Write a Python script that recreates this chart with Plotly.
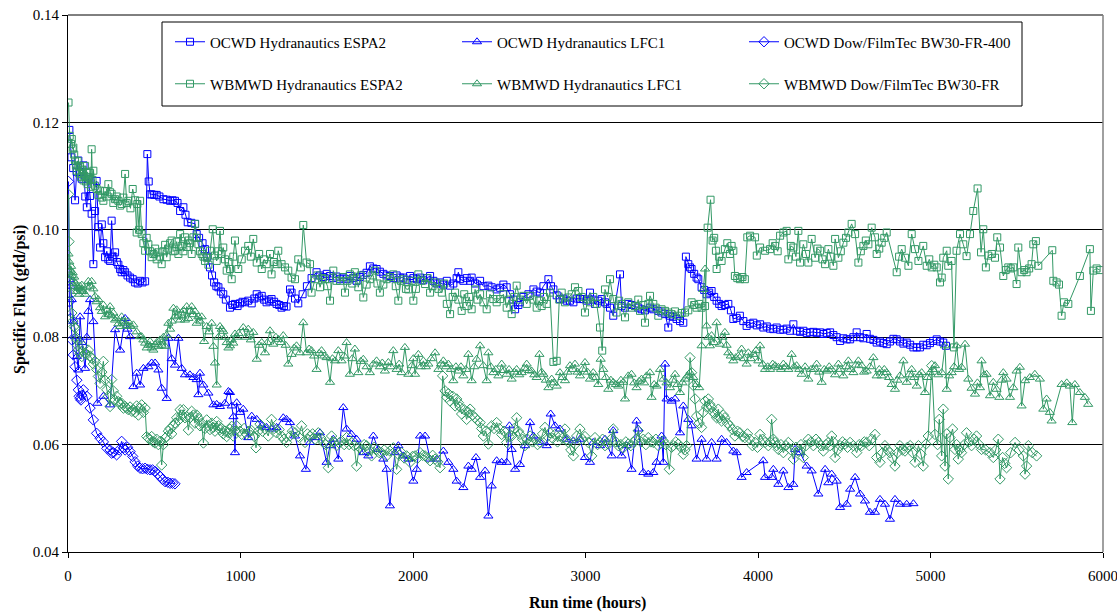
import plotly.graph_objects as go

# ---------------- data: (run time in hours, specific flux in gfd/psi) ----------------
OCWD_ESPA2 = [
    (8,0.1186),(20,0.1135),(30,0.1115),(41,0.1055),(50,0.1108),(60,0.1129),(70,0.1107),(80,0.1095),(90,0.1120),(100,0.1062),
    (109,0.1042),(118,0.1095),(128,0.1063),(137,0.1030),(147,0.0936),(157,0.1035),(166,0.1091),(176,0.1005),(186,0.0967),(196,0.1010),
    (205,0.0975),(215,0.0949),(225,0.0960),(234,0.0945),(244,0.0942),(253,0.1017),(263,0.0950),(273,0.0958),(283,0.0940),(292,0.0935),
    (302,0.0927),(311,0.0921),(321,0.0925),(331,0.0921),(345,0.0915),(360,0.0911),(375,0.0908),(389,0.0902),(404,0.0900),(418,0.0905),
    (432,0.0902),(447,0.0904),(460,0.1141),(468,0.1090),(476,0.1066),(485,0.1066),(500,0.1065),(514,0.1065),(530,0.1062),(553,0.1057),
    (572,0.1056),(592,0.1054),(606,0.1055),(620,0.1054),(635,0.1050),(650,0.1035),(669,0.1042),(681,0.1028),(694,0.1014),(715,0.1013),
    (737,0.1011),(746,0.0992),(760,0.0985),(780,0.0975),(794,0.0964),(808,0.0950),(823,0.0930),(835,0.0915),(847,0.0902),(860,0.0895),
    (872,0.0893),(886,0.0885),(900,0.0880),(915,0.0870),(939,0.0855),(953,0.0860),(968,0.0862),(983,0.0858),(997,0.0863),(1012,0.0866),
    (1026,0.0865),(1045,0.0868),(1065,0.0863),(1080,0.0872),(1094,0.0880),(1108,0.0874),(1123,0.0877),(1137,0.0870),(1151,0.0865),(1166,0.0868),
    (1180,0.0871),(1195,0.0866),(1209,0.0862),(1224,0.0860),(1238,0.0855),(1252,0.0858),(1267,0.0857),(1287,0.0889),(1296,0.0883),(1316,0.0872),
    (1335,0.0863),(1360,0.0880),(1385,0.0895),(1412,0.0910),(1441,0.0921),(1460,0.0915),(1480,0.0912),(1500,0.0918),(1519,0.0914),(1538,0.0910),
    (1557,0.0913),(1577,0.0908),(1596,0.0911),(1615,0.0908),(1634,0.0914),(1654,0.0910),(1673,0.0905),(1692,0.0912),(1712,0.0916),(1731,0.0920),
    (1750,0.0932),(1770,0.0928),(1789,0.0927),(1808,0.0922),(1828,0.0918),(1847,0.0915),(1866,0.0914),(1886,0.0910),(1905,0.0915),(1925,0.0911),
    (1944,0.0911),(1963,0.0907),(1983,0.0914),(2002,0.0910),(2022,0.0908),(2041,0.0911),(2060,0.0906),(2080,0.0910),(2099,0.0914),(2118,0.0905),
    (2138,0.0900),(2157,0.0902),(2176,0.0898),(2196,0.0905),(2215,0.0896),(2234,0.0900),(2253,0.0910),(2263,0.0921),(2273,0.0908),(2292,0.0905),
    (2311,0.0910),(2331,0.0905),(2340,0.0911),(2360,0.0900),(2389,0.0905),(2408,0.0895),(2437,0.0896),(2456,0.0893),(2485,0.0889),(2505,0.0892),
    (2524,0.0898),(2543,0.0893),(2562,0.0880),(2582,0.0870),(2592,0.0852),(2611,0.0860),(2620,0.0865),(2640,0.0875),(2669,0.0880),(2698,0.0889),
    (2717,0.0885),(2736,0.0883),(2756,0.0895),(2785,0.0908),(2800,0.0895),(2814,0.0889),(2833,0.0878),(2852,0.0871),(2872,0.0872),(2891,0.0868),
    (2910,0.0868),(2930,0.0865),(2949,0.0872),(2968,0.0871),(2987,0.0871),(3007,0.0868),(3026,0.0883),(3045,0.0870),(3055,0.0862),(3074,0.0868),
    (3094,0.0871),(3113,0.0865),(3123,0.0862),(3142,0.0855),(3161,0.0840),(3200,0.0917),(3209,0.0858),(3229,0.0855),(3248,0.0862),(3267,0.0860),
    (3287,0.0858),(3306,0.0855),(3325,0.0852),(3345,0.0850),(3374,0.0855),(3393,0.0852),(3422,0.0849),(3441,0.0846),(3461,0.0843),(3480,0.0818),
    (3490,0.0840),(3509,0.0838),(3528,0.0834),(3548,0.0830),(3567,0.0827),(3582,0.0950),(3596,0.0936),(3606,0.0930),(3615,0.0927),(3630,0.0918),
    (3644,0.0911),(3654,0.0908),(3673,0.0893),(3688,0.0888),(3702,0.0880),(3717,0.0883),(3731,0.0886),(3746,0.0875),(3760,0.0868),(3775,0.0862),
    (3789,0.0858),(3808,0.0860),(3828,0.0862),(3843,0.0850),(3857,0.0834),(3876,0.0836),(3895,0.0840),(3915,0.0830),(3934,0.0821),(3954,0.0825),
    (3973,0.0827),(3993,0.0822),(4012,0.0824),(4031,0.0818),(4051,0.0820),(4070,0.0816),(4089,0.0815),(4108,0.0818),(4128,0.0814),(4147,0.0814),
    (4166,0.0816),(4186,0.0812),(4205,0.0824),(4224,0.0812),(4244,0.0810),(4263,0.0812),(4282,0.0808),(4302,0.0809),(4321,0.0810),(4340,0.0808),
    (4360,0.0809),(4379,0.0806),(4398,0.0808),(4418,0.0809),(4437,0.0804),(4456,0.0800),(4476,0.0793),(4495,0.0798),(4514,0.0796),(4534,0.0796),
    (4553,0.0800),(4572,0.0809),(4592,0.0800),(4611,0.0798),(4630,0.0806),(4649,0.0797),(4669,0.0795),(4688,0.0790),(4707,0.0792),(4727,0.0789),
    (4746,0.0787),(4765,0.0792),(4785,0.0797),(4804,0.0796),(4823,0.0792),(4843,0.0788),(4862,0.0790),(4882,0.0786),(4901,0.0781),(4920,0.0781),
    (4939,0.0781),(4958,0.0786),(4978,0.0785),(4997,0.0789),(5016,0.0793),(5036,0.0796),(5055,0.0792),(5074,0.0790),(5090,0.0784),
]

OCWD_LFC1 = [
    (8,0.0907),(15,0.0895),(22,0.0870),(31,0.0829),(41,0.0801),(51,0.0764),(60,0.0739),(70,0.0838),(80,0.0790),(99,0.0742),
    (109,0.0800),(118,0.0848),(128,0.0870),(147,0.0829),(170,0.0677),(205,0.0690),(244,0.0674),(273,0.0814),(302,0.0776),(331,0.0835),
    (345,0.0815),(360,0.0801),(379,0.0708),(398,0.0733),(418,0.0711),(437,0.0742),(466,0.0745),(485,0.0752),(505,0.0752),(524,0.0739),
    (543,0.0705),(572,0.0686),(582,0.0798),(601,0.0760),(620,0.0748),(640,0.0798),(659,0.0742),(678,0.0730),(707,0.0730),(727,0.0725),
    (746,0.0721),(756,0.0693),(765,0.0733),(785,0.0711),(814,0.0696),(843,0.0674),(862,0.0675),(881,0.0671),(910,0.0677),(930,0.0699),
    (939,0.0697),(949,0.0672),(959,0.0652),(968,0.0585),(978,0.0678),(997,0.0660),(1016,0.0666),(1045,0.0613),(1065,0.0653),(1094,0.0647),
    (1123,0.0635),(1151,0.0632),(1180,0.0629),(1209,0.0632),(1248,0.0650),(1267,0.0647),(1287,0.0641),(1316,0.0616),(1345,0.0579),(1379,0.0554),
    (1403,0.0604),(1432,0.0613),(1461,0.0622),(1499,0.0567),(1519,0.0598),(1538,0.0610),(1567,0.0573),(1596,0.0669),(1615,0.0629),(1644,0.0619),
    (1673,0.0610),(1712,0.0585),(1741,0.0579),(1770,0.0616),(1799,0.0591),(1828,0.0573),(1847,0.0554),(1866,0.0486),(1895,0.0585),(1915,0.0598),
    (1944,0.0579),(1973,0.0573),(2002,0.0532),(2022,0.0554),(2041,0.0616),(2070,0.0616),(2099,0.0573),(2138,0.0573),(2176,0.0588),(2205,0.0567),
    (2234,0.0554),(2253,0.0532),(2292,0.0520),(2321,0.0560),(2340,0.0554),(2365,0.0576),(2389,0.0539),(2418,0.0551),(2437,0.0467),(2456,0.0523),
    (2485,0.0570),(2514,0.0567),(2543,0.0567),(2559,0.0635),(2572,0.0591),(2592,0.0554),(2620,0.0563),(2649,0.0598),(2679,0.0641),(2698,0.0616),
    (2736,0.0604),(2775,0.0598),(2798,0.0657),(2823,0.0635),(2852,0.0629),(2891,0.0610),(2930,0.0607),(2968,0.0610),(2997,0.0576),(3026,0.0567),
    (3045,0.0604),(3084,0.0598),(3113,0.0610),(3152,0.0579),(3161,0.0626),(3209,0.0579),(3238,0.0598),(3267,0.0554),(3296,0.0644),(3306,0.0629),
    (3335,0.0548),(3364,0.0545),(3393,0.0548),(3412,0.0567),(3441,0.0616),(3451,0.0567),(3461,0.0750),(3470,0.0685),(3499,0.0681),(3519,0.0685),
    (3548,0.0622),(3567,0.0672),(3596,0.0647),(3615,0.0635),(3644,0.0573),(3673,0.0610),(3702,0.0573),(3731,0.0604),(3760,0.0573),(3789,0.0610),
    (3818,0.0604),(3857,0.0588),(3876,0.0585),(3905,0.0539),(3934,0.0548),(4031,0.0570),(4041,0.0539),(4079,0.0539),(4089,0.0554),(4118,0.0526),
    (4147,0.0551),(4176,0.0520),(4205,0.0526),(4215,0.0591),(4244,0.0585),(4282,0.0560),(4311,0.0551),(4350,0.0508),(4389,0.0554),(4408,0.0529),
    (4427,0.0545),(4456,0.0532),(4476,0.0483),(4514,0.0489),(4534,0.0517),(4563,0.0539),(4592,0.0508),(4620,0.0495),(4649,0.0474),(4678,0.0474),
    (4707,0.0498),(4736,0.0489),(4765,0.0461),(4794,0.0498),(4823,0.0489),(4862,0.0489),(4901,0.0490),
]

OCWD_BW30 = [
    (3,0.1090),(8,0.0866),(15,0.0835),(22,0.0795),(31,0.0767),(41,0.0745),(51,0.0720),(60,0.0702),(65,0.0690),(70,0.0686),
    (75,0.0683),(80,0.0692),(89,0.0702),(109,0.0690),(128,0.0668),(147,0.0646),(166,0.0621),(186,0.0612),(205,0.0605),(225,0.0593),
    (244,0.0590),(253,0.0584),(263,0.0585),(282,0.0581),(296,0.0590),(311,0.0606),(321,0.0594),(331,0.0590),(345,0.0595),(360,0.0587),
    (375,0.0578),(389,0.0568),(404,0.0560),(418,0.0556),(432,0.0555),(447,0.0556),(461,0.0554),(476,0.0553),(490,0.0553),(505,0.0550),
    (520,0.0545),(534,0.0541),(548,0.0535),(563,0.0531),(578,0.0530),(592,0.0528),(606,0.0528),(620,0.0527),
]

WBMWD_ESPA2 = [
    (3,0.1237),(10,0.1175),(18,0.1160),(22,0.1169),(27,0.1150),(31,0.1153),(36,0.1140),(41,0.1129),(46,0.1120),(51,0.1110),
    (56,0.1128),(60,0.1119),(65,0.1105),(70,0.1118),(75,0.1098),(80,0.1104),(85,0.1112),(90,0.1092),(95,0.1100),(99,0.1119),
    (104,0.1090),(109,0.1108),(114,0.1085),(118,0.1098),(123,0.1095),(128,0.1106),(133,0.1080),(137,0.1150),(142,0.1093),(147,0.1110),
    (157,0.1082),(166,0.1076),(176,0.1065),(186,0.1073),(196,0.1060),(205,0.1054),(215,0.1072),(225,0.1062),(234,0.1085),(244,0.1070),
    (253,0.1067),(263,0.1050),(273,0.1057),(282,0.1062),(292,0.1054),(302,0.1045),(311,0.1048),(321,0.1060),(331,0.1104),(340,0.1050),
    (350,0.1054),(362,0.1040),(375,0.1076),(389,0.1055),(398,0.0995),(402,0.1048),(412,0.1000),(418,0.1054),(427,0.0992),(437,0.0975),
    (447,0.0961),(456,0.0985),(466,0.0973),(476,0.0960),(485,0.0949),(495,0.0955),(505,0.0965),(514,0.0945),(524,0.0958),(534,0.0950),
    (543,0.0936),(553,0.0960),(563,0.0972),(572,0.0949),(582,0.0965),(592,0.0975),(601,0.0980),(611,0.0960),(620,0.0961),(630,0.0978),
    (640,0.0955),(650,0.0992),(659,0.0970),(669,0.0960),(678,0.0986),(688,0.0968),(698,0.0980),(707,0.0975),(717,0.0955),(727,0.0986),
    (736,0.1011),(746,0.0985),(756,0.0973),(765,0.0960),(775,0.0955),(785,0.0950),(794,0.0942),(804,0.0948),(814,0.0935),(823,0.0961),
    (839,0.1001),(852,0.0952),(862,0.0942),(872,0.0960),(881,0.0998),(891,0.0955),(900,0.0967),(910,0.0945),(920,0.0924),(930,0.0940),
    (939,0.0927),(949,0.0908),(958,0.0950),(968,0.0980),(987,0.0927),(1007,0.0945),(1026,0.0961),(1045,0.0970),(1060,0.0950),(1074,0.0983),
    (1094,0.0939),(1108,0.0955),(1123,0.0927),(1137,0.0945),(1151,0.0936),(1171,0.0955),(1180,0.0917),(1195,0.0940),(1209,0.0936),(1219,0.0961),
    (1238,0.0936),(1258,0.0930),(1277,0.0924),(1296,0.0911),(1316,0.0908),(1335,0.0945),(1350,0.0930),(1364,0.1009),(1383,0.0939),(1403,0.0936),
    (1412,0.0883),(1432,0.0908),(1446,0.0915),(1461,0.0893),(1475,0.0910),(1490,0.0908),(1504,0.0895),(1519,0.0868),(1538,0.0924),(1557,0.0905),
    (1577,0.0905),(1592,0.0912),(1606,0.0883),(1620,0.0905),(1634,0.0917),(1648,0.0900),(1663,0.0921),(1683,0.0893),(1697,0.0915),(1712,0.0874),
    (1731,0.0898),(1750,0.0908),(1765,0.0915),(1779,0.0924),(1794,0.0900),(1808,0.0883),(1828,0.0898),(1847,0.0908),(1866,0.0912),(1886,0.0917),
    (1900,0.0895),(1915,0.0868),(1930,0.0905),(1944,0.0908),(1959,0.0890),(1973,0.0889),(1993,0.0905),(2002,0.0868),(2017,0.0890),(2031,0.0917),
    (2050,0.0905),(2070,0.0899),(2085,0.0910),(2099,0.0883),(2113,0.0895),(2128,0.0902),(2147,0.0890),(2167,0.0883),(2181,0.0900),(2196,0.0862),
    (2215,0.0843),(2230,0.0875),(2244,0.0883),(2263,0.0870),(2282,0.0849),(2297,0.0880),(2311,0.0858),(2326,0.0875),(2340,0.0852),(2360,0.0889),
    (2374,0.0870),(2389,0.0880),(2408,0.0865),(2427,0.0852),(2446,0.0880),(2466,0.0871),(2485,0.0865),(2505,0.0871),(2524,0.0880),(2543,0.0855),
    (2557,0.0870),(2572,0.0843),(2587,0.0875),(2601,0.0896),(2620,0.0870),(2640,0.0877),(2659,0.0862),(2679,0.0877),(2698,0.0870),(2717,0.0855),
    (2731,0.0868),(2746,0.0858),(2760,0.0875),(2775,0.0862),(2794,0.0883),(2814,0.0754),(2833,0.0756),(2848,0.0870),(2862,0.0883),(2881,0.0865),
    (2901,0.0874),(2920,0.0880),(2939,0.0893),(2959,0.0886),(2978,0.0875),(2997,0.0846),(3016,0.0870),(3026,0.0865),(3045,0.0875),(3065,0.0862),
    (3084,0.0818),(3097,0.0775),(3113,0.0889),(3128,0.0875),(3142,0.0908),(3161,0.0871),(3180,0.0846),(3195,0.0868),(3209,0.0862),(3229,0.0837),
    (3248,0.0865),(3267,0.0855),(3287,0.0858),(3306,0.0870),(3316,0.0849),(3335,0.0860),(3345,0.0827),(3364,0.0862),(3374,0.0877),(3393,0.0862),
    (3407,0.0855),(3422,0.0840),(3441,0.0852),(3461,0.0849),(3480,0.0846),(3499,0.0843),(3519,0.0848),(3538,0.0840),(3557,0.0845),(3577,0.0846),
    (3596,0.0850),(3615,0.0865),(3630,0.0860),(3644,0.0855),(3659,0.0862),(3673,0.0855),(3693,0.0858),(3708,0.1004),(3725,0.1056),(3737,0.0980),
    (3746,0.0985),(3756,0.0961),(3760,0.0927),(3775,0.0950),(3789,0.0942),(3808,0.0964),(3822,0.0975),(3837,0.0955),(3847,0.0970),(3857,0.0961),
    (3866,0.0914),(3880,0.0910),(3895,0.0908),(3910,0.0912),(3924,0.0908),(3938,0.0986),(3954,0.0989),(3983,0.0986),(3993,0.0952),(4012,0.0967),
    (4041,0.0961),(4070,0.0964),(4085,0.0975),(4099,0.0970),(4114,0.0960),(4128,0.0989),(4147,0.0995),(4166,0.0998),(4176,0.0945),(4190,0.0970),
    (4205,0.0967),(4220,0.0950),(4234,0.0998),(4244,0.0939),(4263,0.0973),(4278,0.0955),(4292,0.0939),(4311,0.0983),(4331,0.0948),(4345,0.0965),
    (4360,0.0961),(4374,0.0945),(4389,0.0936),(4408,0.0964),(4422,0.0950),(4437,0.0933),(4447,0.0983),(4466,0.0948),(4480,0.0960),(4495,0.0976),
    (4510,0.0985),(4524,0.0995),(4543,0.1011),(4563,0.0992),(4582,0.0939),(4596,0.0960),(4611,0.0970),(4625,0.0980),(4640,0.0973),(4659,0.1004),
    (4678,0.0986),(4688,0.0955),(4703,0.0965),(4717,0.0976),(4732,0.0985),(4746,0.0995),(4804,0.0921),(4818,0.0950),(4833,0.0964),(4852,0.0948),
    (4872,0.0933),(4891,0.0992),(4910,0.0964),(4930,0.0942),(4958,0.0970),(4978,0.0933),(4993,0.0945),(5007,0.0930),(5022,0.0935),(5036,0.0930),
    (5055,0.0902),(5065,0.0911),(5074,0.0948),(5094,0.0961),(5103,0.0933),(5122,0.0942),(5136,0.0781),(5151,0.0961),(5171,0.0992),(5190,0.0973),
    (5209,0.0951),(5229,0.0992),(5248,0.1035),(5273,0.1077),(5293,0.0958),(5306,0.1001),(5321,0.0930),(5335,0.0952),(5355,0.0955),(5374,0.0948),
    (5387,0.0986),(5403,0.0967),(5422,0.0914),(5436,0.0925),(5451,0.0930),(5465,0.0928),(5480,0.0930),(5499,0.0899),(5509,0.0967),(5528,0.0921),
    (5543,0.0925),(5557,0.0921),(5572,0.0928),(5586,0.0936),(5596,0.0973),(5611,0.0979),(5625,0.0933),(5706,0.0962),(5712,0.0905),(5731,0.0902),
    (5745,0.0898),(5760,0.0840),(5774,0.0865),(5799,0.0862),(5866,0.0914),(5924,0.0964),(5930,0.0849),(5944,0.0924),(5963,0.0928),(5982,0.0925),
]

WBMWD_LFC1 = [
    (3,0.0955),(8,0.0940),(13,0.0925),(18,0.0932),(22,0.0915),(27,0.0920),(31,0.0905),(36,0.0912),(41,0.0894),(46,0.0900),
    (51,0.0885),(56,0.0893),(60,0.0891),(65,0.0880),(70,0.0895),(75,0.0888),(80,0.0897),(89,0.0885),(99,0.0880),(109,0.0893),
    (118,0.0904),(128,0.0895),(137,0.0904),(147,0.0890),(157,0.0876),(166,0.0866),(176,0.0870),(186,0.0855),(196,0.0848),(205,0.0860),
    (215,0.0838),(225,0.0850),(234,0.0842),(244,0.0857),(253,0.0840),(263,0.0845),(273,0.0832),(282,0.0835),(292,0.0825),(302,0.0820),
    (311,0.0838),(321,0.0830),(331,0.0826),(340,0.0822),(350,0.0829),(360,0.0820),(379,0.0823),(398,0.0810),(418,0.0801),(427,0.0801),
    (437,0.0795),(447,0.0789),(456,0.0780),(466,0.0785),(476,0.0792),(485,0.0780),(495,0.0776),(505,0.0786),(514,0.0790),(524,0.0783),
    (534,0.0795),(543,0.0785),(553,0.0800),(563,0.0783),(572,0.0804),(582,0.0826),(592,0.0815),(601,0.0830),(611,0.0854),(620,0.0838),
    (630,0.0851),(640,0.0840),(650,0.0832),(659,0.0845),(669,0.0850),(678,0.0832),(688,0.0857),(698,0.0835),(707,0.0848),(717,0.0857),
    (727,0.0842),(736,0.0848),(746,0.0826),(756,0.0838),(765,0.0830),(775,0.0838),(789,0.0792),(804,0.0820),(818,0.0810),(833,0.0826),
    (843,0.0783),(852,0.0752),(862,0.0711),(872,0.0800),(881,0.0820),(891,0.0815),(900,0.0811),(910,0.0800),(920,0.0790),(930,0.0780),
    (939,0.0784),(949,0.0795),(958,0.0789),(968,0.0806),(978,0.0800),(988,0.0807),(1016,0.0818),(1031,0.0800),(1045,0.0815),(1060,0.0795),
    (1074,0.0809),(1094,0.0759),(1108,0.0785),(1123,0.0790),(1142,0.0771),(1156,0.0790),(1171,0.0812),(1190,0.0787),(1205,0.0800),(1219,0.0796),
    (1234,0.0790),(1248,0.0803),(1262,0.0785),(1277,0.0750),(1296,0.0768),(1311,0.0780),(1325,0.0784),(1345,0.0771),(1364,0.0827),(1383,0.0771),
    (1398,0.0778),(1412,0.0775),(1427,0.0765),(1441,0.0740),(1456,0.0770),(1470,0.0775),(1485,0.0765),(1499,0.0762),(1519,0.0716),(1533,0.0760),
    (1548,0.0756),(1567,0.0775),(1586,0.0756),(1601,0.0765),(1615,0.0790),(1634,0.0731),(1648,0.0760),(1663,0.0778),(1683,0.0734),(1697,0.0755),
    (1712,0.0759),(1731,0.0745),(1750,0.0734),(1770,0.0750),(1789,0.0756),(1808,0.0745),(1822,0.0752),(1837,0.0737),(1857,0.0753),(1871,0.0745),
    (1886,0.0775),(1905,0.0740),(1920,0.0750),(1934,0.0734),(1953,0.0781),(1973,0.0731),(1993,0.0747),(2002,0.0760),(2012,0.0731),(2031,0.0768),
    (2046,0.0745),(2060,0.0756),(2075,0.0745),(2089,0.0750),(2104,0.0760),(2128,0.0771),(2147,0.0740),(2162,0.0750),(2176,0.0756),(2191,0.0745),
    (2205,0.0750),(2220,0.0740),(2234,0.0719),(2249,0.0745),(2263,0.0737),(2278,0.0745),(2292,0.0728),(2307,0.0740),(2321,0.0768),(2340,0.0719),
    (2355,0.0745),(2369,0.0759),(2389,0.0784),(2408,0.0747),(2427,0.0719),(2437,0.0771),(2451,0.0745),(2466,0.0734),(2480,0.0740),(2495,0.0728),
    (2514,0.0750),(2528,0.0738),(2543,0.0731),(2557,0.0740),(2572,0.0722),(2587,0.0735),(2601,0.0740),(2616,0.0730),(2630,0.0734),(2645,0.0742),
    (2659,0.0750),(2674,0.0738),(2688,0.0737),(2703,0.0730),(2717,0.0725),(2733,0.0768),(2746,0.0735),(2756,0.0731),(2770,0.0720),(2785,0.0706),
    (2804,0.0722),(2818,0.0715),(2833,0.0709),(2852,0.0734),(2867,0.0725),(2881,0.0719),(2896,0.0735),(2910,0.0747),(2925,0.0740),(2939,0.0750),
    (2954,0.0735),(2968,0.0728),(2983,0.0740),(2997,0.0753),(3012,0.0735),(3026,0.0722),(3045,0.0734),(3060,0.0725),(3074,0.0712),(3088,0.0759),
    (3103,0.0740),(3118,0.0725),(3132,0.0703),(3147,0.0720),(3161,0.0716),(3176,0.0712),(3190,0.0709),(3205,0.0720),(3219,0.0716),(3229,0.0685),
    (3248,0.0728),(3267,0.0731),(3282,0.0715),(3296,0.0706),(3311,0.0718),(3325,0.0722),(3340,0.0715),(3354,0.0728),(3374,0.0734),(3383,0.0688),
    (3398,0.0712),(3412,0.0709),(3432,0.0740),(3451,0.0722),(3470,0.0715),(3490,0.0706),(3504,0.0720),(3519,0.0731),(3533,0.0712),(3548,0.0697),
    (3562,0.0715),(3577,0.0722),(3591,0.0728),(3606,0.0734),(3625,0.0725),(3644,0.0712),(3659,0.0706),(3673,0.0784),(3683,0.0889),(3693,0.0927),
    (3702,0.0821),(3712,0.0800),(3721,0.0784),(3731,0.0803),(3746,0.0790),(3760,0.0827),(3779,0.0787),(3794,0.0800),(3808,0.0809),(3818,0.0785),
    (3828,0.0771),(3842,0.0765),(3857,0.0756),(3871,0.0762),(3886,0.0765),(3905,0.0778),(3920,0.0760),(3934,0.0750),(3944,0.0771),(3958,0.0760),
    (3973,0.0768),(3988,0.0775),(4002,0.0756),(4012,0.0784),(4027,0.0750),(4041,0.0740),(4056,0.0745),(4070,0.0740),(4085,0.0750),(4099,0.0747),
    (4118,0.0744),(4133,0.0740),(4147,0.0750),(4162,0.0745),(4176,0.0740),(4195,0.0768),(4210,0.0745),(4224,0.0747),(4239,0.0740),(4253,0.0731),
    (4273,0.0745),(4292,0.0722),(4307,0.0740),(4321,0.0740),(4340,0.0750),(4355,0.0735),(4369,0.0716),(4384,0.0740),(4398,0.0737),(4413,0.0745),
    (4427,0.0740),(4447,0.0730),(4466,0.0750),(4480,0.0740),(4495,0.0728),(4510,0.0745),(4524,0.0756),(4538,0.0740),(4553,0.0734),(4567,0.0748),
    (4582,0.0756),(4601,0.0747),(4615,0.0735),(4630,0.0737),(4649,0.0745),(4669,0.0762),(4688,0.0728),(4703,0.0740),(4717,0.0728),(4732,0.0740),
    (4746,0.0734),(4760,0.0725),(4775,0.0712),(4794,0.0703),(4808,0.0720),(4823,0.0728),(4843,0.0756),(4862,0.0716),(4876,0.0730),(4891,0.0740),
    (4905,0.0725),(4920,0.0709),(4935,0.0730),(4949,0.0734),(4968,0.0697),(4983,0.0725),(4997,0.0734),(5012,0.0740),(5026,0.0747),(5045,0.0730),
    (5065,0.0734),(5084,0.0784),(5094,0.0703),(5108,0.0728),(5123,0.0734),(5137,0.0745),(5151,0.0784),(5166,0.0740),(5180,0.0744),(5200,0.0787),
    (5219,0.0722),(5238,0.0705),(5258,0.0694),(5272,0.0715),(5287,0.0706),(5296,0.0756),(5311,0.0730),(5325,0.0731),(5345,0.0691),(5364,0.0716),
    (5383,0.0703),(5399,0.0688),(5412,0.0720),(5422,0.0734),(5441,0.0722),(5461,0.0688),(5480,0.0706),(5499,0.0737),(5518,0.0744),(5528,0.0672),
    (5548,0.0719),(5576,0.0725),(5605,0.0731),(5634,0.0722),(5654,0.0666),(5673,0.0685),(5692,0.0660),(5702,0.0644),(5760,0.0712),(5790,0.0715),
    (5808,0.0709),(5822,0.0641),(5837,0.0712),(5866,0.0697),(5895,0.0688),(5914,0.0675),
]

WBMWD_BW30 = [
    (3,0.1066),(6,0.0978),(12,0.0920),(16,0.0880),(22,0.0845),(28,0.0830),(35,0.0820),(41,0.0817),(46,0.0800),(51,0.0795),
    (56,0.0785),(60,0.0776),(70,0.0770),(80,0.0764),(89,0.0783),(99,0.0770),(109,0.0768),(118,0.0776),(128,0.0765),(137,0.0761),
    (147,0.0750),(157,0.0755),(166,0.0740),(176,0.0727),(186,0.0714),(196,0.0735),(205,0.0755),(215,0.0720),(225,0.0702),(234,0.0690),
    (244,0.0671),(253,0.0721),(263,0.0700),(273,0.0683),(282,0.0690),(292,0.0680),(302,0.0675),(311,0.0677),(321,0.0668),(331,0.0671),
    (340,0.0668),(350,0.0665),(360,0.0670),(370,0.0662),(379,0.0665),(389,0.0660),(398,0.0672),(408,0.0655),(418,0.0668),(427,0.0674),
    (437,0.0660),(447,0.0668),(456,0.0615),(466,0.0612),(476,0.0609),(485,0.0615),(495,0.0605),(505,0.0603),(514,0.0610),(524,0.0600),
    (534,0.0606),(543,0.0562),(553,0.0600),(563,0.0612),(572,0.0615),(582,0.0625),(592,0.0630),(601,0.0620),(611,0.0635),(620,0.0640),
    (630,0.0650),(640,0.0645),(650,0.0665),(659,0.0655),(669,0.0665),(678,0.0650),(688,0.0652),(698,0.0627),(707,0.0650),(717,0.0662),
    (727,0.0655),(736,0.0640),(746,0.0655),(756,0.0649),(765,0.0635),(775,0.0640),(785,0.0603),(794,0.0630),(804,0.0646),(814,0.0635),
    (823,0.0628),(833,0.0640),(843,0.0632),(852,0.0625),(862,0.0643),(872,0.0635),(881,0.0628),(891,0.0630),(900,0.0620),(910,0.0625),
    (920,0.0615),(930,0.0622),(939,0.0629),(949,0.0634),(958,0.0616),(968,0.0625),(978,0.0635),(997,0.0625),(1007,0.0619),(1021,0.0630),
    (1036,0.0619),(1050,0.0625),(1065,0.0626),(1080,0.0615),(1090,0.0594),(1103,0.0625),(1113,0.0638),(1127,0.0625),(1142,0.0629),(1161,0.0616),
    (1180,0.0647),(1195,0.0630),(1209,0.0622),(1224,0.0628),(1238,0.0616),(1252,0.0610),(1267,0.0604),(1287,0.0616),(1301,0.0625),(1316,0.0622),
    (1335,0.0615),(1354,0.0635),(1374,0.0604),(1388,0.0620),(1403,0.0616),(1418,0.0620),(1432,0.0610),(1451,0.0622),(1466,0.0612),(1480,0.0604),
    (1495,0.0600),(1509,0.0557),(1528,0.0616),(1543,0.0605),(1557,0.0598),(1572,0.0603),(1586,0.0607),(1601,0.0600),(1615,0.0613),(1630,0.0600),
    (1644,0.0604),(1659,0.0598),(1673,0.0560),(1688,0.0595),(1702,0.0591),(1717,0.0600),(1731,0.0598),(1746,0.0590),(1760,0.0579),(1775,0.0595),
    (1789,0.0591),(1804,0.0585),(1818,0.0585),(1833,0.0590),(1847,0.0579),(1866,0.0588),(1886,0.0594),(1905,0.0554),(1920,0.0580),(1934,0.0585),
    (1949,0.0575),(1963,0.0579),(1983,0.0567),(1998,0.0578),(2012,0.0579),(2027,0.0575),(2041,0.0585),(2056,0.0580),(2070,0.0579),(2085,0.0575),
    (2099,0.0570),(2114,0.0580),(2128,0.0573),(2143,0.0568),(2157,0.0557),(2172,0.0728),(2186,0.0700),(2196,0.0688),(2205,0.0695),(2215,0.0681),
    (2230,0.0690),(2244,0.0672),(2253,0.0685),(2263,0.0678),(2273,0.0670),(2282,0.0657),(2297,0.0665),(2311,0.0647),(2321,0.0660),(2331,0.0666),
    (2345,0.0655),(2360,0.0650),(2374,0.0645),(2389,0.0641),(2398,0.0630),(2408,0.0616),(2422,0.0625),(2437,0.0601),(2456,0.0635),(2470,0.0630),
    (2485,0.0641),(2500,0.0630),(2514,0.0619),(2528,0.0625),(2543,0.0604),(2557,0.0615),(2572,0.0616),(2587,0.0630),(2601,0.0650),(2611,0.0625),
    (2620,0.0619),(2635,0.0610),(2649,0.0598),(2664,0.0610),(2679,0.0616),(2693,0.0605),(2707,0.0610),(2722,0.0600),(2736,0.0604),(2751,0.0620),
    (2765,0.0632),(2780,0.0615),(2794,0.0622),(2809,0.0612),(2823,0.0619),(2838,0.0605),(2852,0.0616),(2867,0.0612),(2881,0.0629),(2891,0.0610),
    (2901,0.0604),(2915,0.0590),(2930,0.0579),(2939,0.0600),(2949,0.0616),(2968,0.0629),(2983,0.0610),(2997,0.0615),(3016,0.0604),(3036,0.0579),
    (3055,0.0613),(3070,0.0600),(3084,0.0604),(3099,0.0610),(3113,0.0598),(3132,0.0601),(3147,0.0610),(3161,0.0629),(3176,0.0605),(3190,0.0598),
    (3205,0.0600),(3219,0.0594),(3234,0.0605),(3248,0.0601),(3263,0.0598),(3277,0.0604),(3292,0.0610),(3306,0.0626),(3321,0.0605),(3335,0.0610),
    (3350,0.0600),(3364,0.0613),(3379,0.0605),(3393,0.0604),(3408,0.0610),(3422,0.0598),(3437,0.0603),(3451,0.0607),(3466,0.0600),(3486,0.0554),
    (3499,0.0595),(3509,0.0598),(3523,0.0605),(3538,0.0601),(3552,0.0595),(3567,0.0582),(3577,0.0590),(3586,0.0598),(3606,0.0762),(3615,0.0734),
    (3625,0.0710),(3635,0.0685),(3644,0.0653),(3659,0.0640),(3673,0.0632),(3683,0.0660),(3693,0.0681),(3702,0.0670),(3712,0.0685),(3721,0.0675),
    (3731,0.0669),(3741,0.0660),(3750,0.0657),(3760,0.0650),(3770,0.0666),(3779,0.0650),(3789,0.0644),(3799,0.0655),(3808,0.0650),(3823,0.0640),
    (3837,0.0635),(3852,0.0628),(3866,0.0616),(3881,0.0625),(3895,0.0622),(3910,0.0615),(3924,0.0613),(3939,0.0620),(3953,0.0610),(3968,0.0598),
    (3983,0.0604),(3997,0.0595),(4012,0.0619),(4027,0.0610),(4041,0.0604),(4060,0.0598),(4070,0.0605),(4079,0.0647),(4089,0.0610),(4099,0.0604),
    (4108,0.0598),(4118,0.0591),(4133,0.0600),(4147,0.0585),(4162,0.0598),(4176,0.0604),(4191,0.0590),(4205,0.0573),(4220,0.0595),(4234,0.0588),
    (4249,0.0600),(4263,0.0576),(4278,0.0598),(4292,0.0610),(4307,0.0605),(4321,0.0598),(4336,0.0610),(4350,0.0604),(4365,0.0598),(4379,0.0588),
    (4394,0.0600),(4408,0.0604),(4418,0.0598),(4427,0.0616),(4437,0.0605),(4447,0.0576),(4461,0.0590),(4476,0.0598),(4490,0.0605),(4505,0.0601),
    (4519,0.0595),(4534,0.0604),(4553,0.0598),(4572,0.0585),(4587,0.0600),(4601,0.0598),(4616,0.0605),(4630,0.0604),(4645,0.0598),(4659,0.0610),
    (4678,0.0619),(4688,0.0576),(4707,0.0567),(4722,0.0585),(4736,0.0598),(4751,0.0590),(4765,0.0585),(4780,0.0575),(4794,0.0560),(4809,0.0585),
    (4823,0.0598),(4838,0.0590),(4852,0.0588),(4867,0.0595),(4882,0.0598),(4896,0.0585),(4910,0.0567),(4930,0.0598),(4945,0.0582),(4958,0.0560),
    (4974,0.0601),(4987,0.0616),(5007,0.0747),(5026,0.0619),(5041,0.0600),(5051,0.0647),(5065,0.0579),(5074,0.0666),(5084,0.0560),(5094,0.0620),
    (5103,0.0536),(5113,0.0613),(5128,0.0629),(5142,0.0591),(5151,0.0600),(5161,0.0573),(5171,0.0590),(5180,0.0585),(5195,0.0600),(5209,0.0622),
    (5224,0.0605),(5238,0.0598),(5253,0.0610),(5267,0.0616),(5282,0.0600),(5296,0.0591),(5320,0.0590),(5345,0.0585),(5364,0.0576),(5378,0.0590),
    (5393,0.0610),(5403,0.0536),(5418,0.0576),(5430,0.0565),(5441,0.0557),(5465,0.0585),(5490,0.0604),(5514,0.0590),(5538,0.0579),(5548,0.0545),
    (5557,0.0560),(5567,0.0598),(5590,0.0585),(5615,0.0579),
]

SERIES_NAMES = [
    "OCWD Hydranautics ESPA2", "OCWD Hydranautics LFC1", "OCWD Dow/FilmTec BW30-FR-400",
    "WBMWD Hydranautics ESPA2", "WBMWD Hydranautics LFC1", "WBMWD Dow/FilmTec BW30-FR",
]
X_TICKS = [0, 1000, 2000, 3000, 4000, 5000, 6000]
Y_TICKS = [0.04, 0.06, 0.08, 0.10, 0.12, 0.14]
X_TITLE = "Run time (hours)"
Y_TITLE = "Specific Flux (gfd/psi)"

# ---------------- style ----------------
BLUE = "#0000FF"
GREEN = "#339966"
FONT = "Liberation Serif, 'Times New Roman', Times, serif"

styles = [
    (OCWD_ESPA2, BLUE, "square-open", 7, "legend"),
    (OCWD_LFC1, BLUE, "triangle-up-open", 8, "legend"),
    (OCWD_BW30, BLUE, "diamond-open", 8, "legend"),
    (WBMWD_ESPA2, GREEN, "square-open", 7, "legend2"),
    (WBMWD_LFC1, GREEN, "triangle-up-open", 8, "legend2"),
    (WBMWD_BW30, GREEN, "diamond-open", 8, "legend2"),
]

fig = go.Figure()
for name, (data, color, sym, size, lg) in zip(SERIES_NAMES, styles):
    fig.add_trace(go.Scatter(
        x=[p[0] for p in data], y=[p[1] for p in data],
        mode="lines+markers", name=name, legend=lg,
        line=dict(color=color, width=1),
        marker=dict(symbol=sym, size=size, color=color, line=dict(color=color, width=1)),
    ))

W, H = 1117, 612
L, R, T, B = 68, 14, 15, 60
pw, ph = W - L - R, H - T - B

def px_x(px):
    return (px - L) / pw

def px_y(py):
    return (H - B - py) / ph

legend_common = dict(
    orientation="h", xanchor="left", yanchor="middle",
    entrywidth=242, entrywidthmode="pixels",
    font=dict(family=FONT, size=15, color="black"),
    bgcolor="rgba(0,0,0,0)", borderwidth=0, traceorder="normal",
)

fig.update_layout(
    width=W, height=H,
    margin=dict(l=L, r=R, t=T, b=B, autoexpand=False),
    paper_bgcolor="white", plot_bgcolor="white",
    font=dict(family=FONT, color="black"),
    showlegend=True,
    legend=dict(x=px_x(170), y=px_y(42), **legend_common),
    legend2=dict(x=px_x(170), y=px_y(84), **legend_common),
    xaxis=dict(
        range=[0, 6000], tickvals=X_TICKS, ticktext=[str(v) for v in X_TICKS],
        showgrid=False, zeroline=False, showline=True, linecolor="black", linewidth=1,
        ticks="outside", ticklen=5, tickcolor="black", tickwidth=1,
        tickfont=dict(family=FONT, size=15, color="black"), ticklabelstandoff=5,
        ticklabeloverflow="allow",
    ),
    yaxis=dict(
        range=[0.04, 0.14], tickvals=Y_TICKS, ticktext=["%.2f" % v for v in Y_TICKS],
        showgrid=True, gridcolor="black", gridwidth=1, zeroline=False,
        showline=True, linecolor="black", linewidth=1,
        ticks="outside", ticklen=5, tickcolor="black", tickwidth=1,
        tickfont=dict(family=FONT, size=15, color="black"),
        ticklabeloverflow="allow",
    ),
    annotations=[
        dict(text="<b>%s</b>" % X_TITLE, xref="paper", yref="paper", x=px_x(587), y=px_y(603),
             xanchor="center", yanchor="middle", showarrow=False,
             font=dict(family=FONT, size=16, color="black")),
        dict(text="<b>%s</b>" % Y_TITLE, xref="paper", yref="paper", x=px_x(20), y=px_y(300),
             xanchor="center", yanchor="middle", showarrow=False, textangle=-90,
             font=dict(family=FONT, size=16, color="black")),
    ],
    shapes=[
        dict(type="rect", xref="paper", yref="paper", x0=px_x(162), x1=px_x(1022), y0=px_y(106), y1=px_y(22),
             line=dict(color="black", width=1), fillcolor="white", layer="below"),
        dict(type="line", xref="paper", yref="paper", x0=0, x1=1, y0=1, y1=1, line=dict(color="black", width=1)),
        dict(type="line", xref="paper", yref="paper", x0=1, x1=1, y0=0, y1=1, line=dict(color="#808080", width=1.5)),
    ],
)

fig.write_html("out.html")
